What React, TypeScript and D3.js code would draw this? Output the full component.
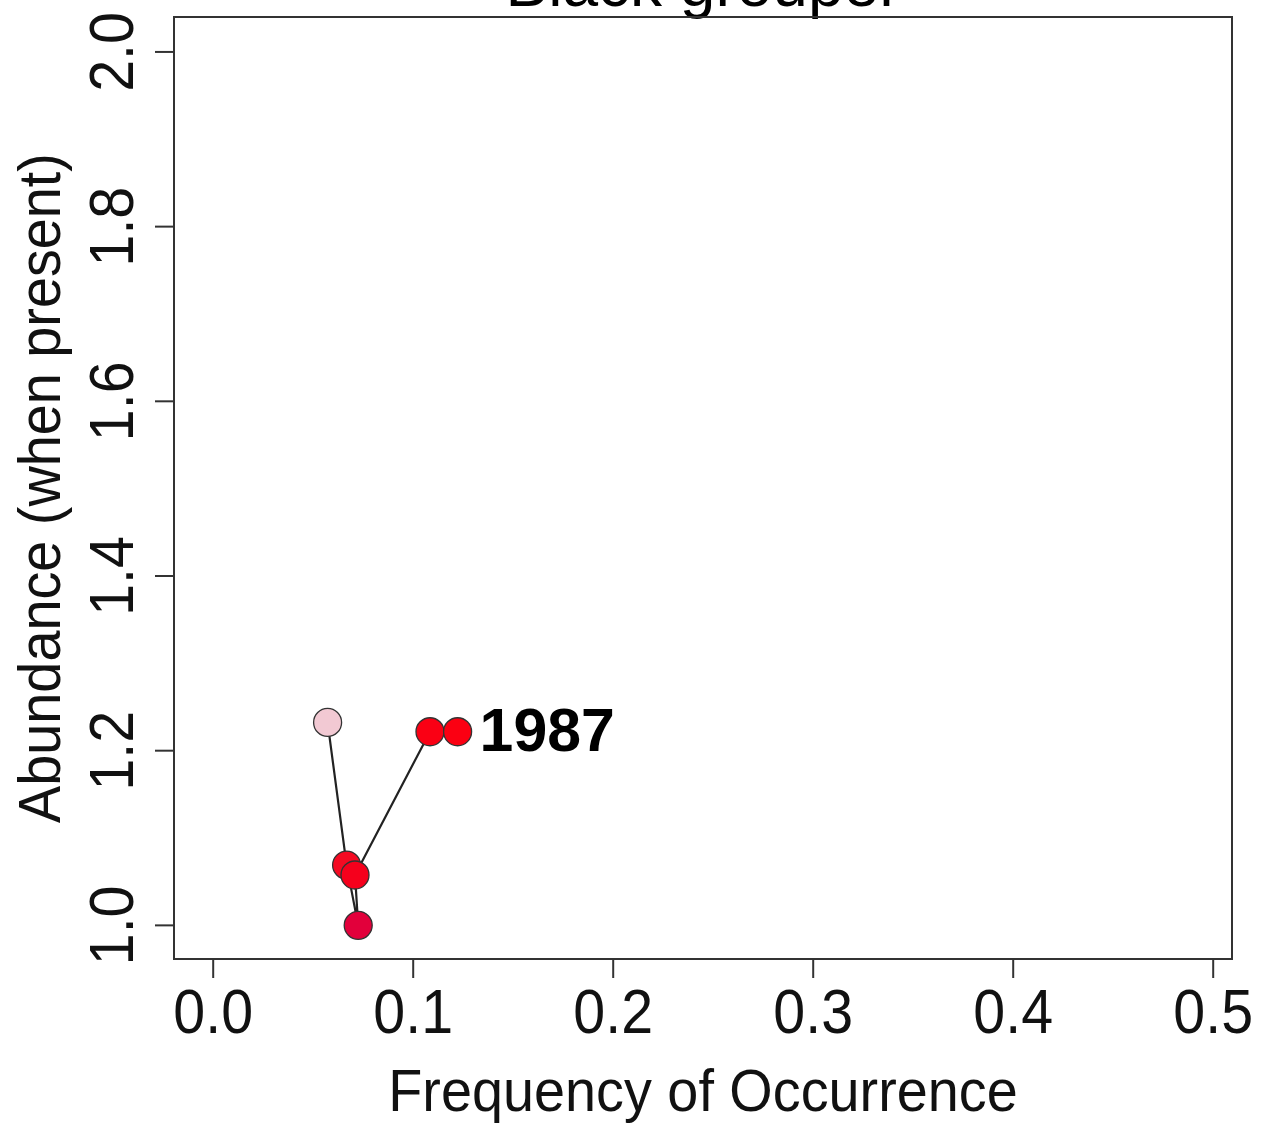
import React from 'react';
import * as d3 from 'd3';

// Black grouper: frequency of occurrence vs abundance, path through years
const freq = [0.0572, 0.0667, 0.0725, 0.0709, 0.1084, 0.1222];
const abund = [1.2324, 1.069, 1.0, 1.0577, 1.2217, 1.2217];
const pointColors = ['#f2c9d3', '#f50a22', '#e2003b', '#f5001c', '#fa0014', '#fb0012'];
const lastLabel = '1987';

const xTicks = [0, 0.1, 0.2, 0.3, 0.4, 0.5];
const yTicks = [1.0, 1.2, 1.4, 1.6, 1.8, 2.0];

const W = 1264;
const H = 1126;
const plot = { left: 174, right: 1232, top: 17, bottom: 959 };
const font = '"Liberation Sans", Arial, Helvetica, sans-serif';

const App = () => {
  const x = d3.scaleLinear().domain([-0.0196, 0.5094]).range([plot.left, plot.right]);
  const y = d3.scaleLinear().domain([0.9615, 2.04]).range([plot.bottom, plot.top]);

  const pts = freq.map((f, i) => ({ f, a: abund[i], c: pointColors[i] }));
  const line = d3.line<{ f: number; a: number }>().x(d => x(d.f)).y(d => y(d.a));
  const last = pts[pts.length - 1];

  return (
    <svg width={W} height={H} style={{ position: 'absolute', left: 0, top: 0, background: '#fff' }}
      fontFamily={font}>
      <rect x={0} y={0} width={W} height={H} fill="#fff" />

      {/* title, mostly clipped at the top as in the source */}
      <text x={(plot.left + plot.right) / 2} y={6} fontSize={64} textAnchor="middle" fill="#000">
        Black grouper
      </text>

      {/* plot box */}
      <rect x={plot.left} y={plot.top} width={plot.right - plot.left} height={plot.bottom - plot.top}
        fill="none" stroke="#333" strokeWidth={2} />

      {/* x axis */}
      {xTicks.map(t => (
        <g key={'x' + t}>
          <line x1={x(t)} x2={x(t)} y1={plot.bottom} y2={plot.bottom + 19} stroke="#333" strokeWidth={2} />
          <g transform={`translate(${x(t)},1033) scale(0.91,1)`}>
            <text fontSize={63} textAnchor="middle" fill="#111">{d3.format('.1f')(t)}</text>
          </g>
        </g>
      ))}

      {/* y axis */}
      {yTicks.map(t => (
        <g key={'y' + t}>
          <line x1={plot.left} x2={plot.left - 19} y1={y(t)} y2={y(t)} stroke="#333" strokeWidth={2} />
          <g transform={`translate(133,${y(t)}) rotate(-90) scale(0.91,1)`}>
            <text fontSize={63} textAnchor="middle" fill="#111">{d3.format('.1f')(t)}</text>
          </g>
        </g>
      ))}

      <g transform={`translate(${(plot.left + plot.right) / 2},1111) scale(0.93,1)`}>
        <text fontSize={60} textAnchor="middle" fill="#111">Frequency of Occurrence</text>
      </g>
      <g transform={`translate(60,${(plot.top + plot.bottom) / 2}) rotate(-90) scale(0.93,1)`}>
        <text fontSize={60} textAnchor="middle" fill="#111">Abundance (when present)</text>
      </g>

      {/* trajectory */}
      <path d={line(pts) || ''} fill="none" stroke="#222" strokeWidth={2.2} />
      {pts.map((p, i) => (
        <circle key={i} cx={x(p.f)} cy={y(p.a)} r={14} fill={p.c} stroke="#333" strokeWidth={1.3} />
      ))}

      <g transform={`translate(${x(last.f) + 22},${y(last.a) + 19}) scale(0.98,1)`}>
        <text fontSize={62} fontWeight="bold" fill="#000">{lastLabel}</text>
      </g>
    </svg>
  );
};

export default App;
